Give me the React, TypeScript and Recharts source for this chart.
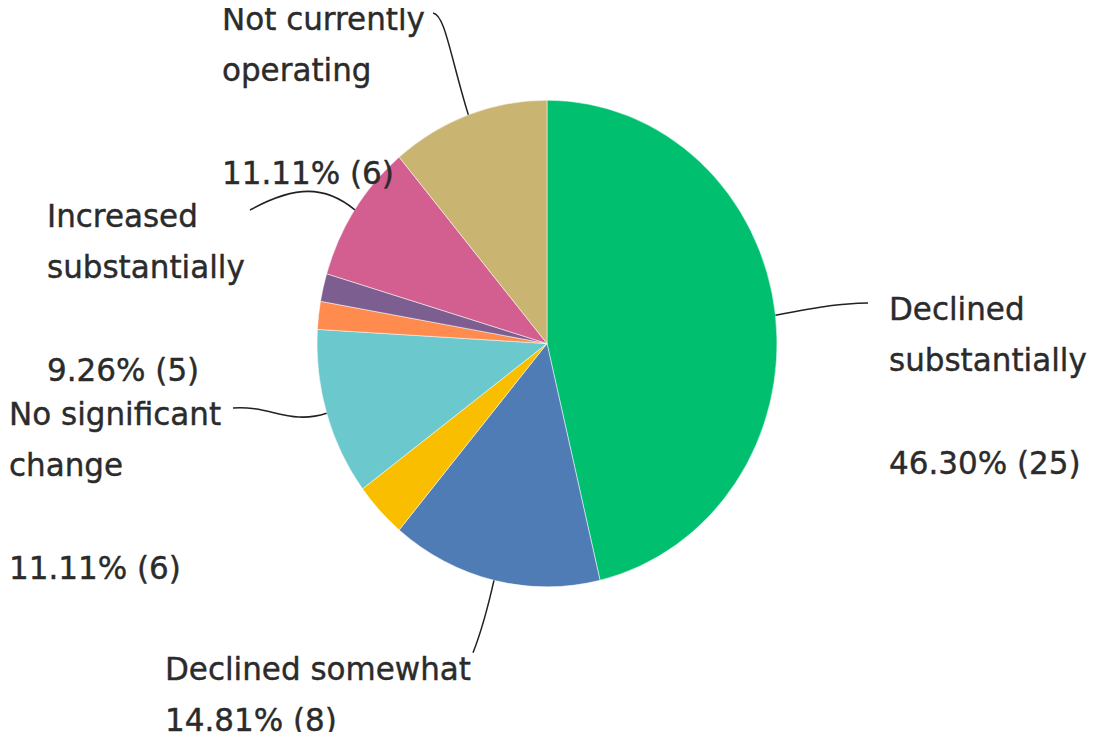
import { PieChart, Pie, Cell } from 'recharts';

const categories = [
  'Declined substantially',
  'Declined somewhat',
  'Declined slightly',
  'No significant change',
  'Increased slightly',
  'Increased somewhat',
  'Increased substantially',
  'Not currently operating',
];
const counts = [25, 8, 2, 6, 1, 1, 5, 6];
const colors = ['#00BF6F', '#507CB6', '#F9BE00', '#6BC8CD', '#FF8B4F', '#7D5E90', '#D25F90', '#C9B571'];
const nameLines: Record<string, string[]> = {
  'Declined substantially': ['Declined', 'substantially'],
  'Declined somewhat': ['Declined somewhat'],
  'No significant change': ['No significant', 'change'],
  'Increased substantially': ['Increased', 'substantially'],
  'Not currently operating': ['Not currently', 'operating'],
};

const total = counts.reduce((a, b) => a + b, 0);
const data = categories.map((name, i) => ({ name, value: counts[i] }));

// the reference is a bit taller than wide, so the whole chart is stretched vertically
const STRETCH = 1.058;
const W = 1102;
const H = Math.round(740 / STRETCH);

// where each label and its leader line sit (chart coords, before the stretch)
const labelLayout: Record<string, { x: number; y: number; valueRow: number; c1: number[]; c2: number[]; end: number[] }> = {
  'Declined substantially': { x: 889, y: 302.5, valueRow: 3, c1: [825, 289], c2: [840, 287], end: [868, 286.4] },
  'Declined somewhat': { x: 165, y: 642.7, valueRow: 1, c1: [486, 582], c2: [480, 600], end: [473, 617] },
  'No significant change': { x: 9, y: 401.7, valueRow: 3, c1: [290, 402], c2: [270, 383], end: [233, 385.6] },
  'Increased substantially': { x: 47, y: 214.6, valueRow: 3, c1: [325, 175], c2: [295, 175], end: [250, 198.5] },
  'Not currently operating': { x: 222, y: 28.4, valueRow: 3, c1: [450, 52], c2: [445, 14], end: [433, 12.3] },
};

const RADIAN = Math.PI / 180;
const LINE_H = 48.6;
const textStyle = { fontFamily: 'DejaVu Sans', fontSize: 31, fill: '#2b2b2b', stroke: '#2b2b2b', strokeWidth: 0.4 };

const renderLabel = (props: any) => {
  const { cx, cy, midAngle, outerRadius, name, value } = props;
  const layout = labelLayout[name];
  if (!layout) return null;
  const sx = cx + outerRadius * Math.cos(-midAngle * RADIAN);
  const sy = cy + outerRadius * Math.sin(-midAngle * RADIAN);
  const pct = ((value / total) * 100).toFixed(2) + '% (' + value + ')';
  const lines = nameLines[name];
  return (
    <g>
      <path
        d={`M${sx},${sy} C${layout.c1[0]},${layout.c1[1]} ${layout.c2[0]},${layout.c2[1]} ${layout.end[0]},${layout.end[1]}`}
        stroke="#222"
        strokeWidth={1.5}
        fill="none"
      />
      {lines.map((l, i) => (
        <text key={i} x={layout.x} y={layout.y + i * LINE_H} {...textStyle}>
          {l}
        </text>
      ))}
      <text x={layout.x} y={layout.y + layout.valueRow * LINE_H} {...textStyle}>
        {pct}
      </text>
    </g>
  );
};

export default function App() {
  return (
    // outer box keeps the page as tall as the stretched chart
    <div style={{ margin: '-8px 0 0 -8px', width: W, height: 732 }}>
      <div style={{ width: W, height: H, transform: `scaleY(${STRETCH})`, transformOrigin: '0 0' }}>
        <style>{'.recharts-surface { overflow: visible; }'}</style>
        <PieChart width={W} height={H} margin={{ top: 0, right: 0, bottom: 0, left: 0 }}>
          <Pie
            data={data}
            dataKey="value"
            nameKey="name"
            cx={547}
            cy={324.7}
            outerRadius={230}
            startAngle={90}
            endAngle={-270}
            stroke="#fff"
            strokeWidth={0.5}
            label={renderLabel}
            labelLine={false}
            isAnimationActive={false}
          >
            {data.map((d, i) => (
              <Cell key={d.name} fill={colors[i]} />
            ))}
          </Pie>
        </PieChart>
      </div>
    </div>
  );
}
